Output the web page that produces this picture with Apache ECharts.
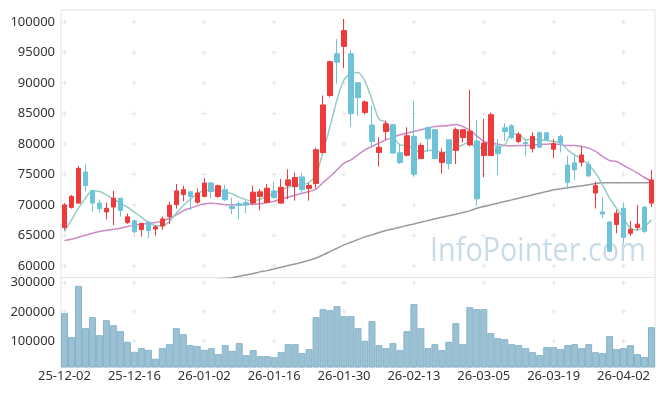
<!DOCTYPE html>
<html>
<head>
<meta charset="utf-8">
<script src="https://cdn.jsdelivr.net/npm/echarts@6/dist/echarts.min.js"></script>
<style>
html,body{margin:0;padding:0;background:#fff;}
#chart{width:665px;height:396px;}
</style>
</head>
<body>
<div id="chart"></div>
<script>
// ---- data ----
var dates = [
 '25-12-02','25-12-03','25-12-04','25-12-05','25-12-08','25-12-09','25-12-10','25-12-11','25-12-12','25-12-15',
 '25-12-16','25-12-17','25-12-18','25-12-19','25-12-22','25-12-23','25-12-24','25-12-26','25-12-29','25-12-30',
 '26-01-02','26-01-05','26-01-06','26-01-07','26-01-08','26-01-09','26-01-12','26-01-13','26-01-14','26-01-15',
 '26-01-16','26-01-19','26-01-20','26-01-21','26-01-22','26-01-23','26-01-26','26-01-27','26-01-28','26-01-29',
 '26-01-30','26-02-02','26-02-03','26-02-04','26-02-05','26-02-06','26-02-09','26-02-10','26-02-11','26-02-12',
 '26-02-13','26-02-19','26-02-20','26-02-23','26-02-24','26-02-25','26-02-26','26-02-27','26-03-03','26-03-04',
 '26-03-05','26-03-06','26-03-09','26-03-10','26-03-11','26-03-12','26-03-13','26-03-16','26-03-17','26-03-18',
 '26-03-19','26-03-20','26-03-23','26-03-24','26-03-25','26-03-26','26-03-27','26-03-30','26-03-31','26-04-01',
 '26-04-02','26-04-03','26-04-06','26-04-07','26-04-08'
];
var openP = [
 66300,69600,70300,75400,72350,70300,68850,69650,71100,67100,
 67400,65950,67150,66050,66550,68100,70050,71700,72150,70450,
 71400,73600,71400,72500,69750,70200,70400,70300,71400,70400,
 72300,70300,73200,73000,74600,72700,73500,78600,87950,94800,
 96000,94800,90050,85150,83100,78600,82050,83150,78550,78150,
 81250,77600,82700,82350,76950,80700,78950,81050,79850,80500,
 78100,78100,79500,82650,83000,80400,80250,79250,81900,81850,
 79150,81250,76550,76900,77000,76650,71950,68850,67200,66800,
 69450,65350,66300,69650,70300
];
var closeP = [
 70000,71400,76000,73200,70300,69400,69450,71100,69100,68050,
 65600,66950,65800,66400,67700,69950,72300,72500,71400,71950,
 73600,72200,73150,70850,69400,69900,70000,72100,72150,72750,
 71200,72900,74100,74500,72500,73200,79050,86400,93500,93400,
 98600,84950,87600,86900,80400,79450,83300,78500,76950,81350,
 75050,79750,80850,77600,78550,76800,82350,82350,82100,71000,
 80150,84800,78400,82050,81050,81600,80050,81250,79450,80700,
 80050,80150,73700,75750,78200,74750,73150,68500,62400,68650,
 64700,66000,66850,65650,74100
];
var lowP = [
 65900,69400,70200,72200,68900,68750,67650,66700,68100,66900,
 65350,64800,64550,64950,65900,66850,69400,70600,69150,70200,
 71250,71100,71200,70650,68500,67650,68650,70050,69100,70300,
 71050,70200,70950,70700,71800,70700,72700,78400,87650,89900,
 92450,82850,84600,84800,79600,76300,80700,78400,76700,77950,
 74650,77500,78750,77500,75150,75850,76700,80250,79600,69850,
 74550,78050,74900,80550,80800,80150,77950,78600,79300,80650,
 77650,78600,72600,74100,76300,74650,69400,67850,62300,65350,
 63700,64950,65900,65350,69650
];
var highP = [
 70300,71650,76400,76750,72450,70850,70400,72300,71150,68600,
 67550,67100,67350,66700,68100,70500,73450,73150,72300,72700,
 74400,73800,73300,73300,71200,70550,70850,73150,72600,73450,
 73850,74250,75850,75300,75250,73600,79350,87950,93650,97200,
 100500,95350,90100,87150,86250,81100,83850,83300,80050,82750,
 87100,80150,82750,82450,79250,80700,82700,82450,88900,83950,
 84100,85150,80800,83400,83250,81950,80800,81900,82000,81900,
 80800,81500,78050,78200,79600,77200,73850,71250,67350,69200,
 70400,67400,70000,69750,75750
];
var volume = [
 195400,113100,289100,144000,181700,120000,171400,154300,133700,97100,
 62900,75400,69700,38900,75400,89100,144000,123400,85700,82300,
 69700,75400,54900,85700,66300,92600,51400,68600,48000,48000,
 44600,61700,89100,89100,58300,72000,181700,209100,205700,219400,
 185100,185100,144000,100600,168000,85700,75400,92600,68600,133700,
 226300,144000,75400,89100,68600,97100,161100,89100,216000,209100,
 209100,126900,109700,106300,89100,85700,75400,61700,51400,78900,
 78900,72000,85700,89100,75400,89100,61700,58300,116600,72000,
 75400,85700,54900,44600,147400
];
var ma5 = [
 65640,67550,69470,71110,72310,72200,71660,70940,70290,69630,
 68810,67990,67110,66620,66570,67280,68650,69900,70940,71820,
 72370,72420,72370,72100,71820,71270,70830,70670,70940,71380,
 71930,72480,72910,73130,73300,73680,74940,78770,82870,87250,
 90530,91520,91740,90260,87250,84080,83530,81340,79860,79750,
 79150,78610,78930,78930,78600,78770,79320,79860,80410,79040,
 79750,80250,79590,79860,81670,81610,80680,80790,80680,80570,
 80410,80140,79040,78220,77510,76580,75210,73300,71110,69470,
 67820,66180,65910,66460,67550
];
var ma20 = [
 64160,64380,64710,65030,65360,65640,65850,66020,66180,66460,
 66680,66840,67000,67110,67390,67820,68370,69030,69470,69850,
 70180,70290,70180,70040,70020,70020,70070,70120,70180,70400,
 70620,70940,71270,71600,71930,72200,72590,73680,74660,75760,
 76850,77400,78220,79040,79590,80140,80680,81070,81500,81780,
 82050,82330,82600,82870,82930,83040,83200,82870,82220,81340,
 80410,80250,79970,79750,79700,79750,79750,79810,79920,79970,
 80030,79860,79750,79750,79590,79320,78770,77950,77290,77130,
 76470,75870,75210,74500,73840
];
var ma60 = [
 null,null,null,null,null,null,null,null,null,null,
 null,null,null,null,null,null,null,null,null,null,
 57500,57650,57800,57950,58080,58300,58520,58740,59020,59230,
 59510,59780,60060,60330,60600,60930,61310,61810,62350,62900,
 63450,63890,64320,64760,65090,65470,65800,66070,66350,66620,
 66890,67170,67440,67720,67990,68210,68480,68760,69030,69470,
 69740,70020,70290,70560,70830,71110,71380,71660,71930,72200,
 72480,72640,72810,72970,73130,73300,73520,73630,73630,73630,
 73630,73630,73630,73630,73630
];
var priceTicks = [60000,65000,70000,75000,80000,85000,90000,95000,100000];
var volumeTicks = [100000,200000,300000];

// ---- build ----
var candleData = openP.map(function(o,i){ return [o, closeP[i], lowP[i], highP[i]]; });
var markCats = [];
for (var c = 0; c < dates.length; c += 10) markCats.push(c);
var priceMarks = [], volMarks = [];
markCats.forEach(function(c){
  priceTicks.forEach(function(v){ priceMarks.push([c, v]); });
  volumeTicks.forEach(function(v){ volMarks.push([c, v]); });
});

var FONT = 'Noto Sans';
var plus = 'path://M2,0H3V2H5V3H3V5H2V3H0V2H2Z';
var plainNum = function(v){ return String(v); };
var chart = echarts.init(document.getElementById('chart'), null, {renderer:'canvas'});
chart.setOption({
  animation: false,
  backgroundColor: '#fff',
  textStyle: {fontFamily: FONT},
  grid: [
    {left: 61, top: 10, width: 594, height: 267.5, show: true, borderColor: '#e3e3e3', borderWidth: 1, backgroundColor: 'transparent'},
    {left: 61, top: 277.5, width: 594, height: 89.5, show: true, borderColor: '#e3e3e3', borderWidth: 1, backgroundColor: 'transparent'}
  ],
  xAxis: [
    {type: 'category', gridIndex: 0, data: dates, boundaryGap: true,
     axisLine: {show: false}, axisTick: {show: false}, axisLabel: {show: false}, splitLine: {show: false}},
    {type: 'category', gridIndex: 1, data: dates, boundaryGap: true,
     axisLine: {show: false}, axisTick: {show: false}, splitLine: {show: false},
     axisLabel: {interval: 9, color: '#333', fontSize: 13, fontFamily: FONT, margin: 3, hideOverlap: false}}
  ],
  yAxis: [
    {type: 'value', gridIndex: 0, min: 58100, max: 101970, splitNumber: 9, scale: true,
     axisLine: {show: false}, axisTick: {show: false}, splitLine: {show: false},
     axisLabel: {color: '#333', fontSize: 13, fontFamily: FONT, margin: 6, showMinLabel: false, showMaxLabel: false, formatter: plainNum}},
    {type: 'value', gridIndex: 1, min: 10800, max: 317800, splitNumber: 3, scale: true,
     axisLine: {show: false}, axisTick: {show: false}, splitLine: {show: false},
     axisLabel: {color: '#333', fontSize: 13, fontFamily: FONT, margin: 6, showMinLabel: false, showMaxLabel: false, formatter: plainNum}}
  ],
  graphic: [{
    type: 'text', x: 430, y: 236, scaleX: 0.9, z: 1, silent: true,
    style: {text: 'InfoPointer.com', font: '32px "Open Sans"', fill: '#c9dbe6'}
  }],
  series: [
    {type: 'scatter', xAxisIndex: 0, yAxisIndex: 0, data: priceMarks, symbol: plus, symbolSize: 5,
     itemStyle: {color: '#dddddd'}, silent: true, z: 1},
    {type: 'scatter', xAxisIndex: 1, yAxisIndex: 1, data: volMarks, symbol: plus, symbolSize: 5,
     itemStyle: {color: '#dddddd'}, silent: true, z: 1},
    {name: 'MA60', type: 'line', xAxisIndex: 0, yAxisIndex: 0, data: ma60, showSymbol: false, smooth: 0.3,
     lineStyle: {color: '#9a9a9a', width: 1.5}, clip: true, z: 2, connectNulls: false},
    {name: 'MA20', type: 'line', xAxisIndex: 0, yAxisIndex: 0, data: ma20, showSymbol: false, smooth: 0.3,
     lineStyle: {color: '#cc8ac6', width: 1.5}, clip: true, z: 2},
    {name: 'MA5', type: 'line', xAxisIndex: 0, yAxisIndex: 0, data: ma5, showSymbol: false, smooth: 0.3,
     lineStyle: {color: '#93cdc5', width: 1.5}, clip: true, z: 2},
    {name: 'price', type: 'candlestick', xAxisIndex: 0, yAxisIndex: 0, data: candleData, barWidth: 5, z: 3,
     itemStyle: {color: '#ee3a3a', color0: '#6ec3d8', borderColor: '#ee3a3a', borderColor0: '#6ec3d8', borderWidth: 1}},
    {name: 'volume', type: 'bar', xAxisIndex: 1, yAxisIndex: 1, data: volume, barCategoryGap: '0%', z: 2,
     itemStyle: {color: '#9cc1d2', borderColor: '#86b3cc', borderWidth: 1}}
  ]
});
</script>
</body>
</html>
